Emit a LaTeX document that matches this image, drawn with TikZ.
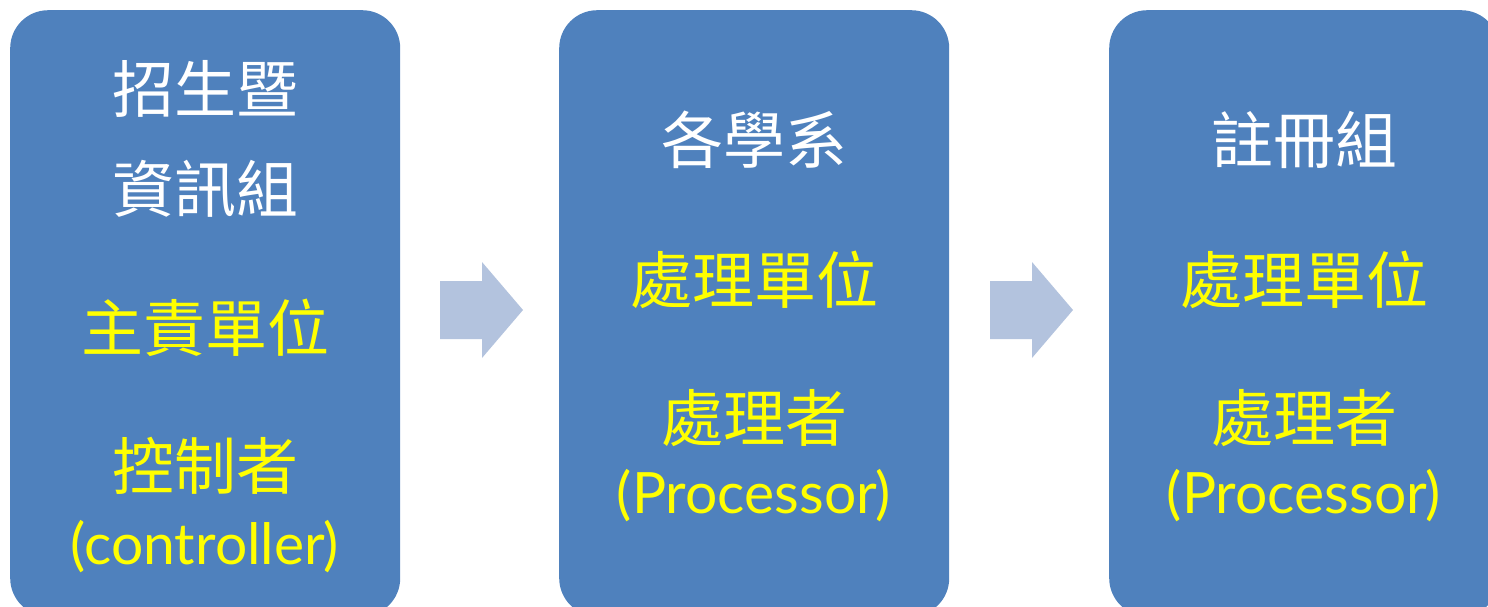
\documentclass[tikz,border=0pt]{standalone}
\usepackage{fontspec}
\newfontfamily\cjk{Noto Sans CJK TC}
\newfontfamily\lat{Lato}
\definecolor{boxblue}{HTML}{4F81BD}
\definecolor{arrowblue}{HTML}{B3C3DE}
\definecolor{txtyellow}{HTML}{FFFF00}
\begin{document}
\begin{tikzpicture}[x=1pt,y=-1pt,
  box/.style={fill=boxblue, draw=none, rounded corners=38pt, minimum width=390pt, minimum height=606pt, anchor=north west, inner sep=0pt},
  blockarrow/.style={fill=arrowblue, draw=none},
  wtxt/.style={text=white, font=\cjk\fontsize{62}{62}\selectfont, inner sep=0pt},
  ytxt/.style={text=txtyellow, font=\cjk\fontsize{62}{62}\selectfont, inner sep=0pt},
  ltxt/.style={text=txtyellow, font=\lat\fontsize{57}{57}\selectfont, inner sep=0pt}]
\useasboundingbox (0,0) rectangle (1488,606);
\clip (0,0) rectangle (1488,606);
% boxes
\node[box] (b1) at (10,10) {};
\node[box] (b2) at (559,10) {};
\node[box] (b3) at (1109,10) {};
% block arrows
\coordinate (a1) at (440,310);
\coordinate (a2) at (990,310);
\foreach \a in {a1,a2}{
  \fill[blockarrow] ([yshift=29pt]\a) -- ++(42,0) -- ++(0,-19) -- ++(41,48) -- ++(-41,48) -- ++(0,-19) -- ++(-42,0) -- cycle;
}
% box 1 text
\node[wtxt] (t11) at (205,89) {招生暨};
\node[wtxt] (t12) at (205,189) {資訊組};
\node[ytxt] (t13) at (205,328) {主責單位};
\node[ytxt] (t14) at (205,466) {控制者};
\node[ltxt] (t15) at (205,547) {(controller)};
% box 2 text
\node[wtxt] (t21) at (754,140) {各學系};
\node[ytxt] (t22) at (754,280) {處理單位};
\node[ytxt] (t23) at (754,418) {處理者};
\node[ltxt] (t24) at (754,496) {(Processor)};
% box 3 text
\node[wtxt] (t31) at (1304,140) {註冊組};
\node[ytxt] (t32) at (1304,280) {處理單位};
\node[ytxt] (t33) at (1304,418) {處理者};
\node[ltxt] (t34) at (1304,496) {(Processor)};
\end{tikzpicture}
\end{document}
